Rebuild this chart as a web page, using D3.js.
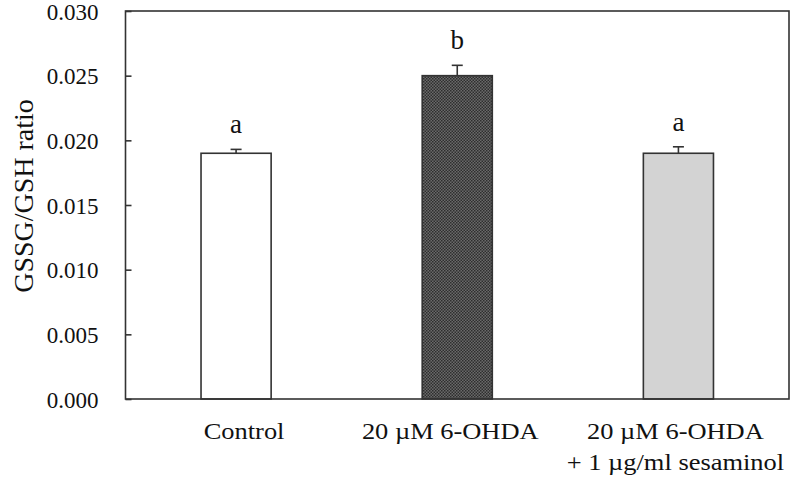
<!DOCTYPE html>
<html><head><meta charset="utf-8">
<script src="https://cdn.jsdelivr.net/npm/d3@7"></script>
<style>body{margin:0;background:#fff}svg{display:block}text{font-family:"Liberation Serif","Times New Roman",serif;fill:#111}</style>
</head><body><svg id="c" width="792" height="480"></svg>
<script>
const categories = ["Control", "20 µM 6-OHDA", "20 µM 6-OHDA\n+ 1 µg/ml sesaminol"];
const values = [0.019, 0.025, 0.019];
const errors = [0.0003, 0.0008, 0.0005];
const letters = ["a", "b", "a"];
const yTicks = [0.000, 0.005, 0.010, 0.015, 0.020, 0.025, 0.030];
const fills = ["#ffffff", "url(#hatch)", "#d3d3d3"];

const svg = d3.select("#c");
const m = {l:125.5, r:789, t:11, b:399};
const labelShift = [8, -7, -3];
const defs = svg.append("defs");
const pat = defs.append("pattern").attr("id","hatch").attr("patternUnits","userSpaceOnUse").attr("width",3).attr("height",3);
pat.append("rect").attr("width",3).attr("height",3).attr("fill","#6a6a6a");
pat.append("rect").attr("width",1.5).attr("height",1.5).attr("fill","#2e2e2e");
pat.append("rect").attr("x",1.5).attr("y",1.5).attr("width",1.5).attr("height",1.5).attr("fill","#2e2e2e");

const x = d3.scaleBand().domain(categories).range([m.l, m.r]).paddingInner(0.683).paddingOuter(0.3415);
const y = d3.scaleLinear().domain([0, 0.030]).range([m.b, m.t]);
const stroke = "#333";

// bars
svg.selectAll("rect.bar").data(categories).enter().append("rect")
  .attr("x", d => x(d)).attr("width", x.bandwidth())
  .attr("y", (d,i) => y(values[i])).attr("height", (d,i) => y(0) - y(values[i]))
  .attr("fill", (d,i) => fills[i]).attr("stroke", stroke).attr("stroke-width", 1.6);

// error bars
categories.forEach((d,i) => {
  const cx = x(d) + x.bandwidth()/2;
  svg.append("line").attr("x1",cx).attr("x2",cx).attr("y1",y(values[i])).attr("y2",y(values[i]+errors[i])).attr("stroke",stroke).attr("stroke-width",1.6);
  svg.append("line").attr("x1",cx-5.5).attr("x2",cx+5.5).attr("y1",y(values[i]+errors[i])).attr("y2",y(values[i]+errors[i])).attr("stroke",stroke).attr("stroke-width",1.6);
  svg.append("text").attr("x",cx).attr("y",y(values[i]+errors[i])-16).attr("text-anchor","middle").attr("font-size",27).text(letters[i]);
});

// frame
svg.append("rect").attr("x",m.l).attr("y",m.t).attr("width",m.r-m.l).attr("height",m.b-m.t).attr("fill","none").attr("stroke",stroke).attr("stroke-width",1.6);

// y axis
const ya = svg.append("g").attr("transform",`translate(${m.l},0)`)
  .call(d3.axisRight(y).tickValues(yTicks).tickFormat(d3.format(".3f")).tickSize(6));
ya.select(".domain").remove();
ya.selectAll("line").attr("stroke",stroke).attr("stroke-width",1.6);
ya.selectAll("text").attr("x",-27).attr("dy","0.35em").attr("text-anchor","end").attr("font-size",23).attr("font-family","Liberation Serif").attr("fill","#111");

// x labels
categories.forEach((d,i) => {
  const cx = x(d) + x.bandwidth()/2 + labelShift[i];
  d.split("\n").forEach((line,j) => {
    svg.append("text").attr("transform",`translate(${cx},${439 + j*31}) scale(1.15,1)`).attr("text-anchor","middle").attr("font-size",23).text(line);
  });
});

// y label
svg.append("text").attr("transform","translate(33,196) rotate(-90)").attr("text-anchor","middle").attr("font-size",28).text("GSSG/GSH ratio");
</script></body></html>
